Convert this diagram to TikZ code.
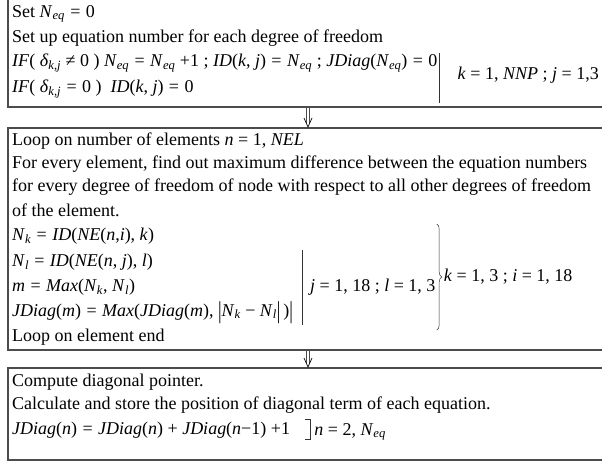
\documentclass[tikz,border=0pt]{standalone}
\usepackage{fontspec}
\setmainfont{Liberation Serif}
\usetikzlibrary{decorations.pathreplacing,calc}
\newcommand{\vi}[1]{\textit{#1}}
\newcommand{\sbi}[1]{\textsubscript{\textit{#1}}}
\newcommand{\E}{\hspace{0.3em}=\hspace{0.3em}}
\newcommand{\absbar}{\raisebox{-0.15em}{\scalebox{1}[1.35]{|}}}
\tikzset{
  boxline/.style={draw=gray!60!black, line width=1.4pt},
  txt/.style={anchor=west, inner sep=0pt, font=\fontsize{18}{20}\selectfont},
  thinbar/.style={draw=black!80, line width=0.6pt},
  shaft/.style={draw=gray!60!black, line width=0.7pt},
  tip/.style={draw=black, line width=0.7pt}
}
\begin{document}
\begin{tikzpicture}[x=1pt,y=-1pt]
\useasboundingbox (0,0) rectangle (602,463);
% boxes
\draw[boxline] (620,-5) -- (8,-5) -- (8,107) -- (620,107);
\draw[boxline] (620,128) -- (8,128) -- (8,350) -- (620,350);
\draw[boxline] (620,368) -- (8,368) -- (8,460) -- (620,460);
% box 1
\node[txt] (s1) at (12,14) {Set \vi{N}\sbi{eq}\E0};
\node[txt] (s2) at (12,38) {Set up equation number for each degree of freedom};
\node[txt] (s3) at (12,63) {\vi{IF}( \vi{δ}\sbi{k,j} ≠ 0 ) \vi{N}\sbi{eq}\E\vi{N}\sbi{eq} +1 ; \vi{ID}(\vi{k}, \vi{j})\E\vi{N}\sbi{eq} ; \vi{JDiag}(\vi{N}\sbi{eq})\E0};
\node[txt] (s4) at (12,89) {\vi{IF}( \vi{δ}\sbi{k,j}\E0 ) \ \vi{ID}(\vi{k}, \vi{j})\E0};
\coordinate (b1t) at ($(s3.east)+(2,-10)$);
\coordinate (b1b) at ($(s3.east)+(2,40)$);
\draw[thinbar] (b1t) -- (b1b);
\node[txt, anchor=east] (r1) at (599,75) {\vi{k} = 1, \vi{NNP} ; \vi{j} = 1,3};
% arrow 1
\coordinate (a1s) at (308,107);
\coordinate (a1e) at (308,127);
\draw[shaft] ($(a1s)+(-1.3,0)$) -- ($(a1e)+(-1.3,-4)$);
\draw[shaft] ($(a1s)+(1.3,0)$) -- ($(a1e)+(1.3,-4)$);
\draw[tip] ($(a1e)+(-4,-9)$) -- (a1e) -- ($(a1e)+(4,-9)$);
% box 2
\node[txt] (t1) at (12,141) {Loop on number of elements \vi{n} = 1, \vi{NEL}};
\node[txt] (t2) at (12,164) {For every element, find out maximum difference between the equation numbers};
\node[txt] (t3) at (12,187) {for every degree of freedom of node with respect to all other degrees of freedom};
\node[txt] (t4) at (12,210) {of the element.};
\node[txt] (t5) at (12,236) {\vi{N}\sbi{k}\E\vi{ID}(\vi{NE}(\vi{n},\vi{i}), \vi{k})};
\node[txt] (t6) at (12,262) {\vi{N}\sbi{l}\E\vi{ID}(\vi{NE}(\vi{n}, \vi{j}), \vi{l})};
\node[txt] (t7) at (12,287) {\vi{m}\E\vi{Max}(\vi{N}\sbi{k}, \vi{N}\sbi{l})};
\node[txt] (t8) at (12,313) {\vi{JDiag}(\vi{m})\E\vi{Max}(\vi{JDiag}(\vi{m}), \absbar\vi{N}\sbi{k} − \vi{N}\sbi{l}\absbar\,)\absbar};
\node[txt] (t9) at (12,337) {Loop on element end};
\coordinate (b2t) at (302,250);
\coordinate (b2b) at (302,325);
\draw[thinbar] (b2t) -- (b2b);
\node[txt] (r2) at (310,287) {\vi{j} = 1, 18 ; \vi{l} = 1, 3};
\coordinate (brt) at ($(r2.east)+(1,-63)$);
\coordinate (brb) at ($(r2.east)+(1,43)$);
\draw[thinbar, line width=0.5pt, decorate, decoration={brace, amplitude=5pt}] (brt) -- (brb);
\node[txt] (r3) at ($(r2.east)+(8,-10)$) {\vi{k} = 1, 3 ; \vi{i} = 1, 18};
% arrow 2
\coordinate (a2s) at (308,350);
\coordinate (a2e) at (308,367);
\draw[shaft] ($(a2s)+(-1.3,0)$) -- ($(a2e)+(-1.3,-4)$);
\draw[shaft] ($(a2s)+(1.3,0)$) -- ($(a2e)+(1.3,-4)$);
\draw[tip] ($(a2e)+(-4,-9)$) -- (a2e) -- ($(a2e)+(4,-9)$);
% box 3
\node[txt] (u1) at (12,382) {Compute diagonal pointer.};
\node[txt] (u2) at (12,405) {Calculate and store the position of diagonal term of each equation.};
\node[txt] (u3) at (12,430) {\vi{JDiag}(\vi{n})\E\vi{JDiag}(\vi{n}) + \vi{JDiag}(\vi{n}−1) +1};
\coordinate (k1) at ($(u3.east)+(20,-11)$);
\coordinate (k2) at ($(u3.east)+(20,9)$);
\draw[thinbar] ($(k1)+(-5,0)$) -- (k1) -- (k2) -- ($(k2)+(-5,0)$);
\node[txt] (u4) at ($(u3.east)+(24,2)$) {\vi{n} = 2, \vi{N}\sbi{eq}};
\end{tikzpicture}
\end{document}
